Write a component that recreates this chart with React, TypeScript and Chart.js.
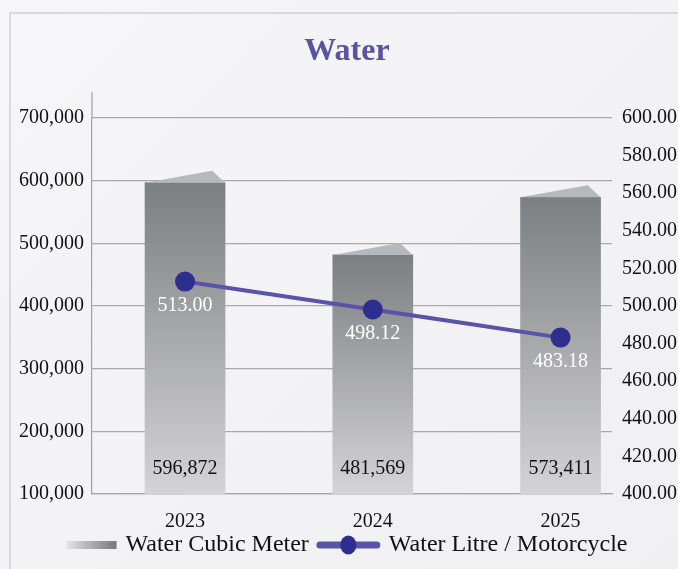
import React, { useEffect, useRef } from 'react';
import { Chart, registerables } from 'chart.js';

Chart.register(...registerables);

const categories = ['2023', '2024', '2025'];
const cubicMeter = [596872, 481569, 573411];
const litrePerMotorcycle = [513.0, 498.12, 483.18];
const leftTicks = [100000, 200000, 300000, 400000, 500000, 600000, 700000];
const rightTicks = [400, 420, 440, 460, 480, 500, 520, 540, 560, 580, 600];
const titleText = 'Water';
const seriesNames = ['Water Cubic Meter', 'Water Litre / Motorcycle'];

const FONT = '"Liberation Serif", "DejaVu Serif", serif';
const LINE_COLOR = '#5a54a8';
const POINT_COLOR = '#2d2e8e';
const CAP_COLOR = '#b7b8bb';
const GRID_COLOR = '#a9a9ab';

const decorPlugin = {
  id: 'decor',
  afterDatasetDraw(chart: any, args: any) {
    if (args.index !== 1) return;
    const ctx = chart.ctx;
    const meta = chart.getDatasetMeta(1);
    const area = chart.chartArea;
    ctx.save();
    meta.data.forEach((bar: any, i: number) => {
      const p = bar.getProps(['x', 'y', 'width'], true);
      const l = p.x - p.width / 2;
      const r = p.x + p.width / 2;
      ctx.beginPath();
      ctx.moveTo(l, p.y);
      ctx.lineTo(l + p.width * 0.84, p.y - 12);
      ctx.lineTo(r, p.y);
      ctx.closePath();
      ctx.fillStyle = CAP_COLOR;
      ctx.fill();
      ctx.fillStyle = '#111';
      ctx.font = '20px ' + FONT;
      ctx.textAlign = 'center';
      ctx.textBaseline = 'middle';
      ctx.fillText(cubicMeter[i].toLocaleString('en-US'), p.x, area.bottom - 25);
    });
    ctx.restore();
  },
  afterDraw(chart: any) {
    const ctx = chart.ctx;
    const area = chart.chartArea;
    ctx.save();
    // left axis extension above top tick
    ctx.strokeStyle = '#a0a0a2';
    ctx.lineWidth = 1.2;
    ctx.beginPath();
    ctx.moveTo(area.left, area.top - 26);
    ctx.lineTo(area.left, area.top);
    ctx.stroke();

    // point labels
    const meta = chart.getDatasetMeta(0);
    ctx.fillStyle = '#ffffff';
    ctx.font = '20px ' + FONT;
    ctx.textAlign = 'center';
    ctx.textBaseline = 'middle';
    meta.data.forEach((pt: any, i: number) => {
      ctx.fillText(litrePerMotorcycle[i].toFixed(2), pt.x, pt.y + 24);
    });

    // title
    const cx = 347;
    ctx.fillStyle = '#5853a5';
    ctx.font = 'bold 32px ' + FONT;
    ctx.fillText(titleText, cx, 52);

    // legend
    ctx.font = '24px ' + FONT;
    const w1 = ctx.measureText(seriesNames[0]).width;
    const w2 = ctx.measureText(seriesNames[1]).width;
    const sw1 = 50, gap1 = 9, gapMid = 8, sw2 = 63, gap2 = 9;
    const total = sw1 + gap1 + w1 + gapMid + sw2 + gap2 + w2;
    let x = cx - total / 2;
    const ly = 545;
    const g = ctx.createLinearGradient(x, 0, x + sw1, 0);
    g.addColorStop(0, '#e4e4e6');
    g.addColorStop(1, '#77787b');
    ctx.fillStyle = g;
    ctx.fillRect(x, ly - 4, sw1, 8);
    x += sw1 + gap1;
    ctx.fillStyle = '#111';
    ctx.textAlign = 'left';
    ctx.fillText(seriesNames[0], x, ly);
    x += w1 + gapMid;
    ctx.strokeStyle = LINE_COLOR;
    ctx.lineWidth = 7;
    ctx.lineCap = 'round';
    ctx.beginPath();
    ctx.moveTo(x + 3, ly);
    ctx.lineTo(x + sw2 - 3, ly);
    ctx.stroke();
    ctx.fillStyle = POINT_COLOR;
    ctx.beginPath();
    ctx.ellipse(x + sw2 / 2, ly, 8, 9.5, 0, 0, Math.PI * 2);
    ctx.fill();
    x += sw2 + gap2;
    ctx.fillStyle = '#111';
    ctx.fillText(seriesNames[1], x, ly);
    ctx.restore();
  },
};

export default function App() {
  const ref = useRef<HTMLCanvasElement | null>(null);

  useEffect(() => {
    if (!ref.current) return;
    const barData = categories.map((_, i) => ({ x: i, y: cubicMeter[i] }));
    const lineData = categories.map((_, i) => ({ x: i, y: litrePerMotorcycle[i] }));

    const chart = new Chart(ref.current, {
      type: 'bar',
      data: {
        datasets: [
          {
            type: 'line',
            label: seriesNames[1],
            data: lineData,
            yAxisID: 'y2',
            borderColor: LINE_COLOR,
            borderWidth: 4,
            tension: 0.35,
            pointRadius: 10,
            pointBackgroundColor: POINT_COLOR,
            pointBorderWidth: 0,
            order: 0,
          } as any,
          {
            type: 'bar',
            label: seriesNames[0],
            data: barData,
            yAxisID: 'y',
            barThickness: 80,
            order: 1,
            backgroundColor: (c: any) => {
              const chart = c.chart;
              const area = chart.chartArea;
              if (!area || !c.raw) return '#9a9a9d';
              const top = chart.scales.y.getPixelForValue(c.raw.y);
              const g = chart.ctx.createLinearGradient(0, top, 0, area.bottom);
              g.addColorStop(0, '#7d7e81');
              g.addColorStop(1, '#d4d4d6');
              return g;
            },
          } as any,
        ],
      },
      options: {
        responsive: false,
        animation: false,
        events: [],
        layout: { padding: { top: 118, left: 0, right: 0, bottom: 0 } },
        plugins: {
          legend: { display: false },
          title: { display: false },
          tooltip: { enabled: false },
        },
        scales: {
          x: {
            type: 'linear',
            offset: false,
            min: -0.4955,
            max: 2.274,
            afterBuildTicks: (s: any) => {
              s.ticks = categories.map((_, i) => ({ value: i }));
            },
            afterFit: (s: any) => {
              s.height = 75;
            },
            grid: { display: false },
            border: { display: true, color: GRID_COLOR, width: 1.2 },
            ticks: {
              color: '#111',
              font: { family: FONT, size: 20 },
              padding: 8,
              callback: (v: any) => categories[v] ?? '',
            },
          },
          y: {
            position: 'left',
            min: leftTicks[0],
            max: leftTicks[leftTicks.length - 1],
            afterBuildTicks: (s: any) => {
              s.ticks = leftTicks.map((v) => ({ value: v }));
            },
            afterFit: (s: any) => {
              s.width = 92;
            },
            grid: { color: GRID_COLOR, lineWidth: 1.2, drawTicks: false },
            border: { display: true, color: '#a0a0a2', width: 1.2 },
            ticks: {
              color: '#111',
              font: { family: FONT, size: 20 },
              padding: 8,
              callback: (v: any) => Number(v).toLocaleString('en-US'),
            },
          },
          y2: {
            position: 'right',
            min: rightTicks[0],
            max: rightTicks[rightTicks.length - 1],
            afterBuildTicks: (s: any) => {
              s.ticks = rightTicks.map((v) => ({ value: v }));
            },
            afterFit: (s: any) => {
              s.width = 66;
            },
            grid: { display: false, drawTicks: false },
            border: { display: false },
            ticks: {
              color: '#111',
              font: { family: FONT, size: 20 },
              padding: 10,
              callback: (v: any) => Number(v).toFixed(2),
            },
          },
        },
      } as any,
      plugins: [decorPlugin],
    });
    return () => chart.destroy();
  }, []);

  return (
    <div
      style={{
        position: 'absolute',
        left: 0,
        top: 0,
        width: 678,
        height: 569,
        overflow: 'hidden',
        background: 'linear-gradient(135deg, #f6f6f8 0%, #f0f0f3 100%)',
      }}
    >
      <div
        style={{
          position: 'absolute',
          left: 9,
          top: 12,
          width: 700,
          height: 600,
          border: '2px solid #d8d8de',
        }}
      />
      <canvas
        ref={ref}
        width={678}
        height={569}
        style={{ position: 'absolute', left: 0, top: 0, display: 'block' }}
      />
    </div>
  );
}
